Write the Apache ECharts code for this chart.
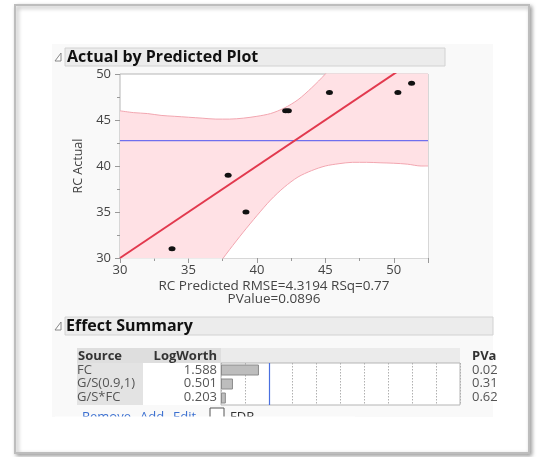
<!DOCTYPE html>
<html><head><meta charset="utf-8">
<script src="https://cdn.jsdelivr.net/npm/echarts@6/dist/echarts.min.js"></script>
<style>html,body{margin:0;padding:0;background:#fff}#c{width:538px;height:457px}</style>
</head><body><div id="c"></div>
<script>
// ---- data ----
const predicted = [33.8, 37.9, 39.2, 42.1, 42.3, 45.3, 50.3, 51.3];
const actual    = [31, 39, 35, 46, 46, 48, 48, 49];
const meanActual = 42.75;
const fitLine = [[30, 30], [52.5, 52.5]];
const bandX     = [30, 31, 32, 33, 34, 35, 36, 37, 38, 39, 40, 41, 42, 43, 44, 45, 46, 47, 48, 49, 50, 51, 52, 52.5];
const bandUpper = [46.0, 45.8, 45.7, 45.5, 45.4, 45.3, 45.2, 45.1, 45.1, 45.2, 45.4, 45.7, 46.3, 47.2, 48.5, 50.0, 51.75, 53.6, 55.6, 57.7, 59.7, 61.8, 64.0, 65.0];
const bandLower = [14.0, 16.2, 18.3, 20.5, 22.6, 24.7, 26.8, 28.9, 30.9, 32.8, 34.6, 36.3, 37.7, 38.8, 39.5, 40.0, 40.25, 40.4, 40.4, 40.35, 40.3, 40.2, 40.0, 40.0];
const xTicks = [30, 35, 40, 45, 50];
const yTicks = [30, 35, 40, 45, 50];
const sources  = ['FC', 'G/S(0.9,1)', 'G/S*FC'];
const logWorth = [1.588, 0.501, 0.203];
const pValues  = ['0.02', '0.31', '0.62'];
const xTitle = 'RC Predicted RMSE=4.3194 RSq=0.77\nPValue=0.0896';
const yTitle = 'RC Actual';

const FONT = '"Open Sans", "Noto Sans", sans-serif';
const chart = echarts.init(document.getElementById('c'));
const pts = predicted.map((p, i) => [p, actual[i]]);
const up = bandX.map((x, i) => [x, bandUpper[i]]);
const lo = bandX.map((x, i) => [x, bandLower[i]]);

const G = [];
G.push({type:'rect', z:-10, shape:{x:15,y:5,width:514,height:448}, style:{fill:'#fff', stroke:'#bdbdbd', lineWidth:2, shadowBlur:4, shadowOffsetX:2, shadowOffsetY:2, shadowColor:'rgba(0,0,0,0.35)'}});
G.push({type:'rect', z:-9, shape:{x:52,y:44,width:441,height:373}, style:{fill:'#f9f9f9'}});
G.push({type:'rect', z:-8, shape:{x:65,y:48,width:380,height:18}, style:{fill:'#ececec', stroke:'#d2d2d2', lineWidth:1}});
G.push({type:'rect', z:-8, shape:{x:65,y:317,width:428,height:18}, style:{fill:'#ececec', stroke:'#d2d2d2', lineWidth:1}});
G.push({type:'polygon', z:-7, shape:{points:[[61,53],[61,61],[55,61]]}, style:{fill:'#fff', stroke:'#888', lineWidth:1}});
G.push({type:'polygon', z:-7, shape:{points:[[61,322],[61,330],[55,330]]}, style:{fill:'#fff', stroke:'#888', lineWidth:1}});
G.push({type:'text', z:-7, style:{x:67, y:57, text:'Actual by Predicted Plot', font:'bold 16px '+FONT, fill:'#111', textVerticalAlign:'middle'}});
G.push({type:'text', z:-7, style:{x:66, y:326, text:'Effect Summary', font:'bold 16px '+FONT, fill:'#111', textVerticalAlign:'middle'}});
G.push({type:'rect', z:-8, shape:{x:77,y:348,width:144,height:15}, style:{fill:'#dedede'}});
G.push({type:'rect', z:-8, shape:{x:221,y:348,width:239,height:15}, style:{fill:'#ebebeb'}});
G.push({type:'rect', z:-8, shape:{x:77,y:363,width:66,height:42}, style:{fill:'#e3e3e3'}});
G.push({type:'rect', z:-8, shape:{x:143,y:363,width:78,height:42}, style:{fill:'#ffffff'}});
G.push({type:'text', z:-7, style:{x:78, y:356, text:'Source', font:'bold 13px '+FONT, fill:'#333', textVerticalAlign:'middle'}});
G.push({type:'text', z:-7, style:{x:217, y:356, text:'LogWorth', font:'bold 13px '+FONT, fill:'#333', textVerticalAlign:'middle', textAlign:'right'}});
G.push({type:'text', z:-7, style:{x:472, y:356, text:'PVa', font:'bold 13px '+FONT, fill:'#333', textVerticalAlign:'middle'}});
const rowY = [370, 383.5, 397];
sources.forEach((s, i) => {
  G.push({type:'text', z:-7, style:{x:77, y:rowY[i], text:s, font:'13px '+FONT, fill:'#555', textVerticalAlign:'middle'}});
  G.push({type:'text', z:-7, style:{x:217, y:rowY[i], text:logWorth[i].toFixed(3), font:'13px '+FONT, fill:'#555', textVerticalAlign:'middle', textAlign:'right'}});
  G.push({type:'text', z:-7, style:{x:472, y:rowY[i], text:pValues[i], font:'13px '+FONT, fill:'#555', textVerticalAlign:'middle'}});
});
G.push({type:'text', z:-7, style:{x:82, y:417, text:'Remove', font:'13px '+FONT, fill:'#3a6fd0', textVerticalAlign:'middle'}});
G.push({type:'text', z:-7, style:{x:140, y:417, text:'Add', font:'13px '+FONT, fill:'#3a6fd0', textVerticalAlign:'middle'}});
G.push({type:'text', z:-7, style:{x:173, y:417, text:'Edit', font:'13px '+FONT, fill:'#3a6fd0', textVerticalAlign:'middle'}});
G.push({type:'rect', z:-7, shape:{x:210,y:408,width:14,height:14}, style:{fill:'#fff', stroke:'#555', lineWidth:1}});
G.push({type:'text', z:-7, style:{x:230, y:417, text:'FDR', font:'13px '+FONT, fill:'#333', textVerticalAlign:'middle'}});
G.push({type:'rect', z:-6, shape:{x:55,y:416.5,width:300,height:20}, style:{fill:'#fff'}});

chart.setOption({
  animation: false,
  graphic: G,
  grid: [
    {left:120, top:74, width:308, height:184, show:true, backgroundColor:'#fff', borderColor:'#b5b5b5', borderWidth:1},
    {left:221, top:363, width:239, height:42, show:true, backgroundColor:'#fff', borderColor:'#b5b5b5', borderWidth:1}
  ],
  xAxis: [
    {gridIndex:0, type:'value', min:30, max:52.5, interval:5, position:'bottom',
     axisLine:{show:false}, splitLine:{show:false},
     axisTick:{show:true, length:5, lineStyle:{color:'#999'}},
     axisLabel:{margin:6, color:'#444', fontSize:13, fontFamily:FONT, formatter:v => xTicks.indexOf(v) >= 0 ? String(v) : ''},
     name:xTitle, nameLocation:'middle', nameGap:21,
     nameTextStyle:{color:'#444', fontSize:13.5, fontFamily:FONT, lineHeight:13.5, verticalAlign:'top'}},
    {gridIndex:0, type:'value', min:30, max:52.5, interval:2.5, position:'bottom',
     axisLine:{show:false}, splitLine:{show:false}, axisLabel:{show:false},
     axisTick:{show:true, length:3, lineStyle:{color:'#999'}}},
    {gridIndex:1, type:'value', min:0, max:10, interval:1,
     axisLine:{show:false}, axisTick:{show:false}, axisLabel:{show:false},
     splitLine:{show:true, lineStyle:{color:'#b0b0b0', type:[1.5,1.5], width:1}}}
  ],
  yAxis: [
    {gridIndex:0, type:'value', min:30, max:50, interval:5, position:'left',
     axisLine:{show:false}, splitLine:{show:false},
     axisTick:{show:true, length:5, lineStyle:{color:'#999'}},
     axisLabel:{margin:9, color:'#444', fontSize:13, fontFamily:FONT, formatter:v => yTicks.indexOf(v) >= 0 ? String(v) : ''},
     name:yTitle, nameLocation:'middle', nameGap:31,
     nameTextStyle:{color:'#444', fontSize:12.5, fontFamily:FONT}},
    {gridIndex:0, type:'value', min:30, max:50, interval:2.5, position:'left',
     axisLine:{show:false}, splitLine:{show:false}, axisLabel:{show:false},
     axisTick:{show:true, length:3, lineStyle:{color:'#999'}}},
    {gridIndex:1, type:'category', data:sources, inverse:true,
     axisLine:{show:false}, axisTick:{show:false}, axisLabel:{show:false}, splitLine:{show:false}}
  ],
  series: [
    {type:'line', xAxisIndex:0, yAxisIndex:0, data:up, smooth:0.3, symbol:'none', clip:true,
     lineStyle:{color:'#f2a6b0', width:1}, areaStyle:{color:'#ffe1e5', opacity:1, origin:'start'}},
    {type:'line', xAxisIndex:0, yAxisIndex:0, data:lo, smooth:0.3, symbol:'none', clip:true,
     lineStyle:{color:'#f2a6b0', width:1}, areaStyle:{color:'#ffffff', opacity:1, origin:'start'}},
    {type:'line', xAxisIndex:0, yAxisIndex:0, data:[[30, meanActual], [52.5, meanActual]], symbol:'none', clip:true,
     lineStyle:{color:'#6f6fee', width:1.3}},
    {type:'line', xAxisIndex:0, yAxisIndex:0, data:fitLine, symbol:'none', clip:true,
     lineStyle:{color:'#e2394e', width:2}},
    {type:'scatter', xAxisIndex:0, yAxisIndex:0, data:pts, symbol:'circle', symbolSize:[7,5], z:10,
     itemStyle:{color:'#111111', opacity:1}},
    {type:'bar', xAxisIndex:2, yAxisIndex:2, data:logWorth, barWidth:11,
     itemStyle:{color:'#bdbdbd', borderColor:'#8c8c8c', borderWidth:1},
     markLine:{silent:true, symbol:'none', label:{show:false}, data:[{xAxis:2}],
       lineStyle:{color:'#4a70e0', type:'solid', width:1.2}}}
  ]
});
</script></body></html>
